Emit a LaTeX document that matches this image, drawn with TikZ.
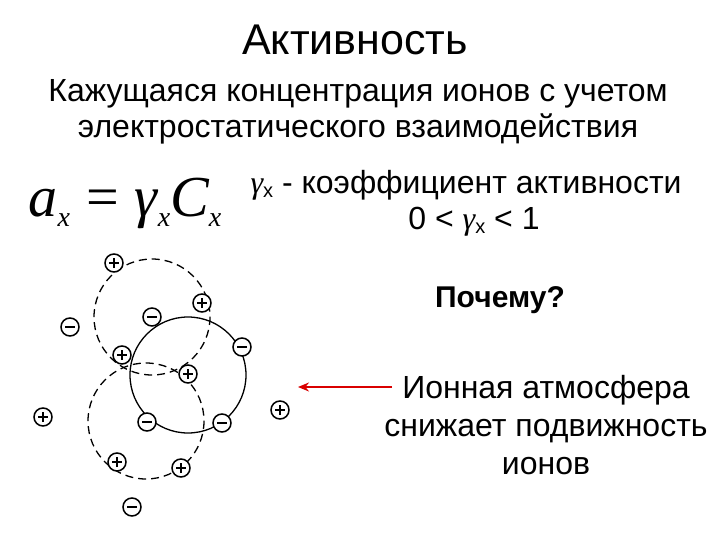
\documentclass[tikz,border=0pt]{standalone}
\usepackage{fontspec}
\usetikzlibrary{arrows.meta}
\setmainfont{Liberation Sans}
\newfontfamily\serifm{Liberation Serif}
\newcommand{\gx}{{\serifm\itshape γ}\raisebox{-4pt}{\fontsize{20}{20}\selectfont x}}
\begin{document}
\begin{tikzpicture}[x=1pt,y=-1pt,
  ion/.style={circle,draw,line width=1.5pt,minimum size=18pt,inner sep=0pt,fill=white},
  atm/.style={line width=1.3pt},
  sg/.style={line width=1.6pt},
  txt/.style={font=\fontsize{32}{36}\selectfont,align=center}]
\useasboundingbox (0,0) rectangle (720,540);
\node[font=\fontsize{43}{48}\selectfont] (title) at (355,40) {Активность};
\node[txt] (sub) at (358,112) {Кажущаяся концентрация ионов с учетом\\электростатического взаимодействия};
\node[font=\serifm\fontsize{58}{58}\selectfont] (f) at (125,203) {\itshape a\raisebox{-10pt}{\fontsize{28}{28}\selectfont x}\upshape\;=\;\itshape γ\raisebox{-10pt}{\fontsize{28}{28}\selectfont x}C\raisebox{-10pt}{\fontsize{28}{28}\selectfont x}};
\node[txt,anchor=west] (g) at (247,185) {\gx\ - коэффициент активности};
\node[txt] (r) at (474,222) {0 < \gx\ < 1};
\node[font=\bfseries\fontsize{30}{34}\selectfont] (q) at (500,300) {Почему?};
\node[txt,font=\fontsize{32}{38}\selectfont] (a) at (546,425) {Ионная атмосфера\\снижает подвижность\\ионов};
\coordinate (ae) at (298,387);
\draw[red!85!black,line width=2pt,-{Stealth[length=11pt,width=9pt]}] (392,387) -- (ae);
\draw[atm,dashed,dash pattern=on 8pt off 5pt] (152,317) circle (58);
\draw[atm,dashed,dash pattern=on 8pt off 5pt] (146,421) circle (58);
\draw[atm] (188,375) circle (58);
\foreach \n/\x/\y in {p1/114/263,p2/202/303,p3/122/355,p4/188/374,p5/43/417,p6/280/410,p7/117/462,p8/181/468}{
  \node[ion] (\n) at (\x,\y) {};
  \draw[sg] ([xshift=-5pt]\n.center) -- ([xshift=5pt]\n.center) ([yshift=-5pt]\n.center) -- ([yshift=5pt]\n.center);}
\foreach \n/\x/\y in {m1/152/317,m2/70/327,m3/242/347,m4/147/422,m5/222/423,m6/132/507}{
  \node[ion] (\n) at (\x,\y) {};
  \draw[sg] ([xshift=-5pt]\n.center) -- ([xshift=5pt]\n.center);}
\end{tikzpicture}
\end{document}
